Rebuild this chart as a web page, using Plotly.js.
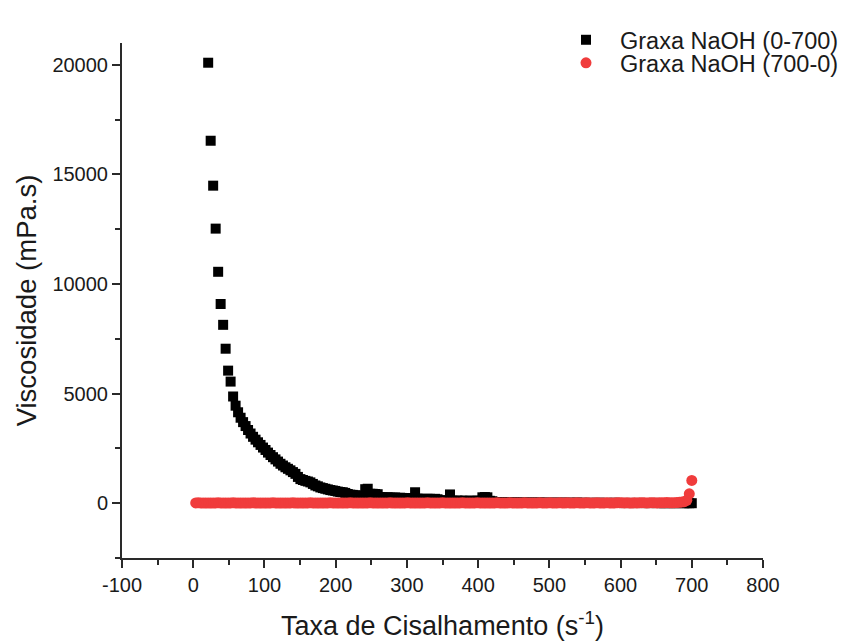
<!DOCTYPE html>
<html>
<head>
<meta charset="utf-8">
<script src="https://cdn.plot.ly/plotly-3.0.1.min.js"></script>
<style>html,body{margin:0;padding:0;background:#fff;}#chart{width:848px;height:641px;}</style>
</head>
<body>
<div id="chart"></div>
<script>
// Shear rate grid (s^-1)
const shearRate = [
  3.5,7,10.5,14,17.5,21,24.5,28,31.5,35,38.5,42,45.5,49,52.5,56,59.5,63,66.5,70,
  73.5,77,80.5,84,87.5,91,94.5,98,101.5,105,108.5,112,115.5,119,122.5,126,129.5,133,136.5,140,
  143.5,147,150.5,154,157.5,161,164.5,168,171.5,175,178.5,182,185.5,189,192.5,196,199.5,203,206.5,210,
  213.5,217,220.5,224,227.5,231,234.5,238,241.5,245,248.5,252,255.5,259,262.5,266,269.5,273,276.5,280,
  283.5,287,290.5,294,297.5,301,304.5,308,311.5,315,318.5,322,325.5,329,332.5,336,339.5,343,346.5,350,
  353.5,357,360.5,364,367.5,371,374.5,378,381.5,385,388.5,392,395.5,399,402.5,406,409.5,413,416.5,420,
  423.5,427,430.5,434,437.5,441,444.5,448,451.5,455,458.5,462,465.5,469,472.5,476,479.5,483,486.5,490,
  493.5,497,500.5,504,507.5,511,514.5,518,521.5,525,528.5,532,535.5,539,542.5,546,549.5,553,556.5,560,
  563.5,567,570.5,574,577.5,581,584.5,588,591.5,595,598.5,602,605.5,609,612.5,616,619.5,623,626.5,630,
  633.5,637,640.5,644,647.5,651,654.5,658,661.5,665,668.5,672,675.5,679,682.5,686,689.5,693,696.5,700
];

// Graxa NaOH (0-700): viscosity (mPa.s), from shear rate 21 upward
const viscUp = [
  20100,16540,14490,12530,10560,9090,8140,7050,6050,5550,
  4870,4450,4150,3900,3700,3520,3340,3180,3030,2900,
  2780,2660,2540,2430,2310,2200,2100,2000,1900,1800,
  1720,1640,1570,1500,1420,1340,1200,1100,1060,1020,
  990,950,880,810,770,720,690,660,630,600,
  580,560,530,510,500,470,420,390,380,360,
  350,340,330,640,660,430,430,420,410,280,
  270,260,270,260,250,260,240,250,240,230,
  220,230,220,500,210,200,190,200,200,200,
  190,200,180,130,120,130,110,400,120,110,
  120,100,110,120,100,110,100,120,110,110,
  270,280,270,110,90,
  40,35,30,40,35,30,25,30,35,30,
  25,30,20,25,30,25,20,25,30,20,
  25,20,15,20,25,20,15,20,25,15,
  20,15,20,25,15,20,15,10,20,15,
  10,15,20,15,10,15,10,15,20,10,
  15,10,5,10,15,10,5,10,15,10,
  5,10,5,10,15,5,10,5,0,5,
  10,5,0,5,10,5,0,5,0,0
];

// Graxa NaOH (700-0): viscosity (mPa.s), from shear rate 700 downward
const viscDown = [
  1040,430,130,70,50,40,
  30,25,20,25,30,20,25,20,15,20,
  25,20,15,20,25,20,15,20,10,15,
  20,15,20,25,20,15,10,15,20,15,
  10,15,20,15,10,15,20,15,10,15,
  20,15,10,15,20,10,15,20,15,10,
  15,20,15,10,15,20,15,10,15,10,
  15,20,15,10,15,10,15,20,10,15,
  10,15,20,15,10,15,10,15,10,15,
  20,15,10,15,10,15,20,15,10,15,
  10,15,10,15,20,15,10,15,10,15,
  20,15,10,15,10,15,10,15,20,15,
  10,15,10,15,10,20,15,10,15,10,
  15,10,15,20,15,10,15,10,15,10,
  15,20,15,10,15,10,15,10,15,20,
  15,10,15,10,15,10,15,20,15,10,
  15,10,15,10,20,15,10,15,10,15,
  10,15,20,15,10,15,10,15,10,15,
  20,15,10,15,10,15,10,15,20,15,
  10,15,10,15,20,15,10,15,10,15,
  10,15,20,15
];

const seriesNames = ['Graxa NaOH (0-700)', 'Graxa NaOH (700-0)'];
const xTicks = [-100,0,100,200,300,400,500,600,700,800];
const yTicks = [0,5000,10000,15000,20000];

const xUp = shearRate.slice(shearRate.length - viscUp.length);
const xDown = shearRate.slice().reverse();

const FONT = '"Liberation Sans", Arial, sans-serif';
const INK = '#1a1a1a';
const AX = '#2a2a2a';

const traces = [
  {
    x: xUp, y: viscUp, name: seriesNames[0], type: 'scatter', mode: 'markers',
    marker: {symbol: 'square', size: 10, color: '#000000', line: {width: 0}},
    legend: 'legend'
  },
  {
    x: xDown, y: viscDown, name: seriesNames[1], type: 'scatter', mode: 'markers',
    marker: {symbol: 'circle', size: 11, color: '#f03c3c', line: {width: 0}},
    legend: 'legend2'
  }
];

const axisCommon = {
  showgrid: false, zeroline: false, showline: true, linecolor: AX, linewidth: 2,
  ticks: 'outside', ticklen: 8, tickwidth: 2, tickcolor: AX,
  tickfont: {family: FONT, size: 20, color: INK},
  mirror: false
};

const legendCommon = {
  xref: 'container', yref: 'container', xanchor: 'left', yanchor: 'middle',
  bgcolor: 'rgba(0,0,0,0)', borderwidth: 0, itemwidth: 58,
  font: {family: FONT, size: 23.5, color: INK}
};

const layout = {
  width: 848, height: 641,
  margin: {l: 122, r: 85, t: 43, b: 83, autoexpand: false},
  paper_bgcolor: '#ffffff', plot_bgcolor: '#ffffff',
  font: {family: FONT, color: INK},
  xaxis: Object.assign({}, axisCommon, {
    range: [-100, 800], tickmode: 'array', tickvals: xTicks, ticktext: xTicks.map(String),
    minor: {dtick: 50, tick0: 0, ticks: 'outside', ticklen: 5, tickwidth: 2, tickcolor: AX},
    title: {text: 'Taxa de Cisalhamento (s<sup>-1</sup>)', font: {family: FONT, size: 27, color: INK}, standoff: 22}
  }),
  yaxis: Object.assign({}, axisCommon, {
    range: [-2500, 21000], tickmode: 'array', tickvals: yTicks, ticktext: yTicks.map(String),
    minor: {dtick: 2500, tick0: 0, ticks: 'outside', ticklen: 5, tickwidth: 2, tickcolor: AX},
    title: {text: 'Viscosidade (mPa.s)', font: {family: FONT, size: 27.5, color: INK}, standoff: 8}
  }),
  legend: Object.assign({}, legendCommon, {x: 552/848, y: 1 - 40/641}),
  legend2: Object.assign({}, legendCommon, {x: 552/848, y: 1 - 63/641}),
  showlegend: true
};

Plotly.newPlot('chart', traces, layout, {displayModeBar: false, staticPlot: true});
</script>
</body>
</html>
